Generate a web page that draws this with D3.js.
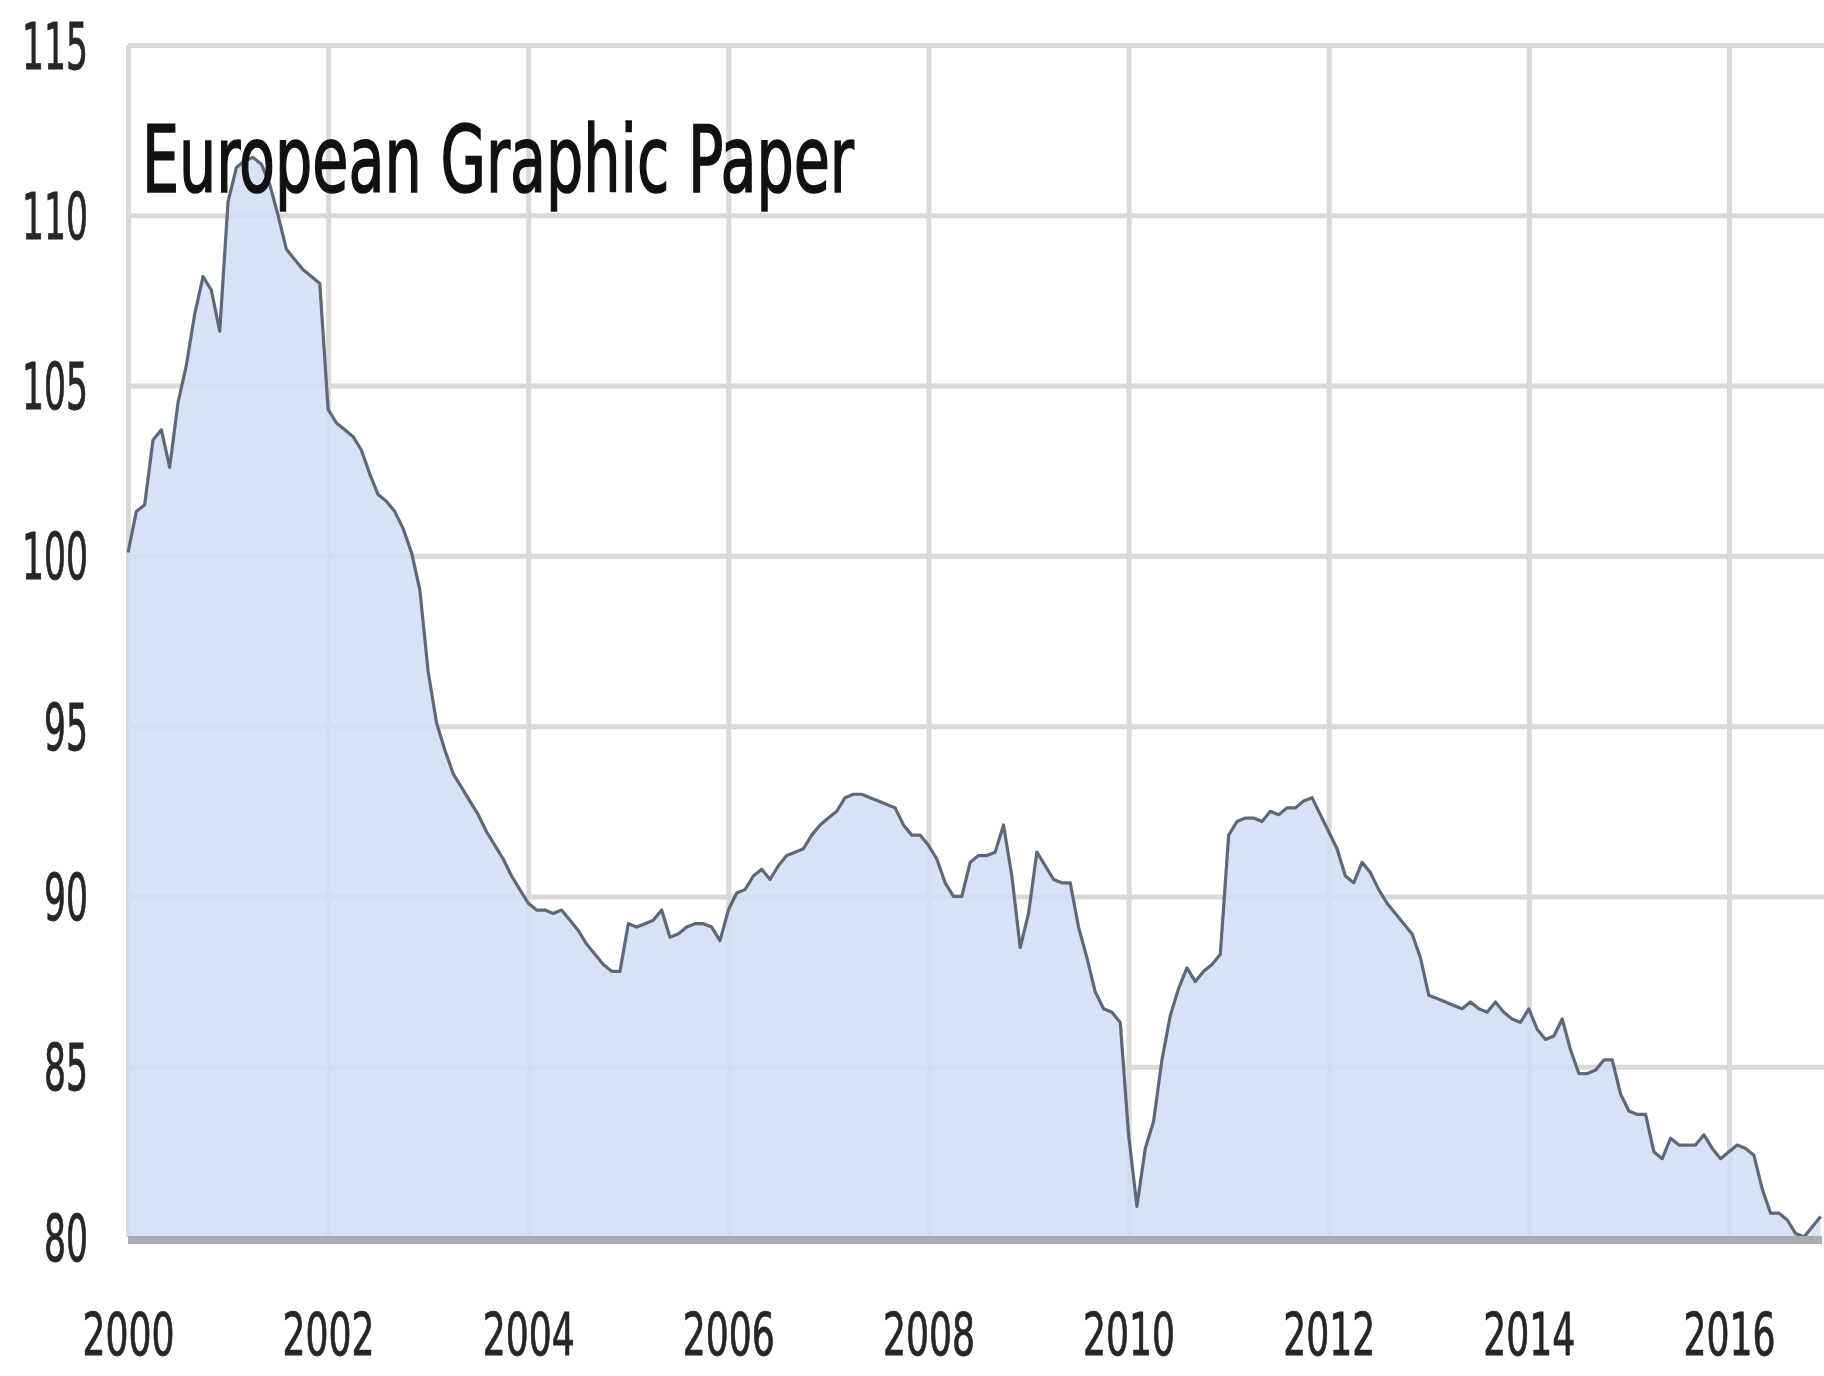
<!DOCTYPE html>
<html>
<head>
<meta charset="utf-8">
<script src="https://cdn.jsdelivr.net/npm/d3@7"></script>
<style>
  body { margin: 0; background: #fff; }
  svg { display: block; }
  text { font-family: "Liberation Sans Narrow", "DejaVu Sans Condensed", sans-serif; }
</style>
</head>
<body>
<div id="master"></div>
<script>
const title = "European Graphic Paper";
const startYear = 2000;

// monthly index values (Jan..Dec)
const v2000 = [100.1, 101.3, 101.5, 103.4, 103.7, 102.6, 104.5, 105.6, 107.1, 108.2, 107.8, 106.6];
const v2001 = [110.4, 111.4, 111.6, 111.7, 111.5, 110.9, 110.0, 109.0, 108.7, 108.4, 108.2, 108.0];
const v2002 = [104.3, 103.9, 103.7, 103.5, 103.1, 102.4, 101.8, 101.6, 101.3, 100.8, 100.1, 99.0];
const v2003 = [96.6, 95.1, 94.3, 93.6, 93.2, 92.8, 92.4, 91.9, 91.5, 91.1, 90.6, 90.2];
const v2004 = [89.8, 89.6, 89.6, 89.5, 89.6, 89.3, 89.0, 88.6, 88.3, 88.0, 87.8, 87.8];
const v2005 = [89.2, 89.1, 89.2, 89.3, 89.6, 88.8, 88.9, 89.1, 89.2, 89.2, 89.1, 88.7];
const v2006 = [89.6, 90.1, 90.2, 90.6, 90.8, 90.5, 90.9, 91.2, 91.3, 91.4, 91.8, 92.1];
const v2007 = [92.3, 92.5, 92.9, 93.0, 93.0, 92.9, 92.8, 92.7, 92.6, 92.1, 91.8, 91.8];
const v2008 = [91.5, 91.1, 90.4, 90.0, 90.0, 91.0, 91.2, 91.2, 91.3, 92.1, 90.6, 88.5];
const v2009 = [89.5, 91.3, 90.9, 90.5, 90.4, 90.4, 89.1, 88.2, 87.2, 86.7, 86.6, 86.3];
const v2010 = [83.0, 80.9, 82.6, 83.4, 85.2, 86.5, 87.3, 87.9, 87.5, 87.8, 88.0, 88.3];
const v2011 = [91.8, 92.2, 92.3, 92.3, 92.2, 92.5, 92.4, 92.6, 92.6, 92.8, 92.9, 92.4];
const v2012 = [91.9, 91.4, 90.6, 90.4, 91.0, 90.7, 90.2, 89.8, 89.5, 89.2, 88.9, 88.2];
const v2013 = [87.1, 87.0, 86.9, 86.8, 86.7, 86.9, 86.7, 86.6, 86.9, 86.6, 86.4, 86.3];
const v2014 = [86.7, 86.1, 85.8, 85.9, 86.4, 85.5, 84.8, 84.8, 84.9, 85.2, 85.2, 84.2];
const v2015 = [83.7, 83.6, 83.6, 82.5, 82.3, 82.9, 82.7, 82.7, 82.7, 83.0, 82.6, 82.3];
const v2016 = [82.5, 82.7, 82.6, 82.4, 81.4, 80.7, 80.7, 80.5, 80.1, 80.0, 80.3, 80.6];

const xTicks = [2000, 2002, 2004, 2006, 2008, 2010, 2012, 2014, 2016];
const yTicks = [80, 85, 90, 95, 100, 105, 110, 115];

const values = [].concat(v2000, v2001, v2002, v2003, v2004, v2005, v2006, v2007, v2008,
  v2009, v2010, v2011, v2012, v2013, v2014, v2015, v2016);
const data = values.map((v, i) => ({ t: startYear + i / 12, v: v }));

let w = 1824, h = 1376;
let xScale = d3.scaleLinear().domain([2000, 2016.93]).range([128, 1822]);
let yScale = d3.scaleLinear().domain([80, 115]).range([1237, 45]);

let svg = d3.select("#master").append("svg").attr("width", w).attr("height", h);
svg.append("rect").attr("width", w).attr("height", h).attr("fill", "#fff");

// horizontal grid
svg.append("g")
  .attr("transform", "translate(" + xScale(2000) + ",0)")
  .call(d3.axisLeft(yScale).tickValues(yTicks.filter(d => d > 80)).tickSize(-(w - xScale(2000))).tickFormat(""))
  .call(g => g.select(".domain").remove())
  .call(g => g.selectAll("line").attr("stroke", "#d9d9d9").attr("stroke-width", 5));

// vertical grid
svg.append("g")
  .attr("transform", "translate(0," + yScale(80) + ")")
  .call(d3.axisBottom(xScale).tickValues(xTicks).tickSize(-(yScale(80) - yScale(115))).tickFormat(""))
  .call(g => g.select(".domain").remove())
  .call(g => g.selectAll("line").attr("stroke", "#d9d9d9").attr("stroke-width", 5));

// area + line
let area = d3.area().x(d => xScale(d.t)).y0(yScale(80)).y1(d => yScale(d.v));
let line = d3.line().x(d => xScale(d.t)).y(d => yScale(d.v));

svg.append("path").datum(data).attr("d", area)
  .attr("fill", "rgb(208,222,242)").attr("fill-opacity", 0.85);
svg.append("path").datum(data).attr("d", line)
  .attr("fill", "none").attr("stroke", "#5d6978").attr("stroke-width", 3.2).attr("stroke-linejoin", "round");

// bottom axis line
svg.append("line")
  .attr("x1", xScale.range()[0]).attr("x2", xScale.range()[1])
  .attr("y1", yScale(80) + 3).attr("y2", yScale(80) + 3)
  .attr("stroke", "#a9acb1").attr("stroke-width", 8);

// y labels
let yAxis = svg.append("g")
  .attr("transform", "translate(88,0)")
  .call(d3.axisLeft(yScale).tickValues(yTicks).tickSize(0).tickPadding(0).tickFormat(d3.format("d")));
yAxis.select(".domain").remove();
yAxis.selectAll("text")
  .attr("font-size", 64).attr("fill", "#262626")
  .attr("stroke", "#262626").attr("stroke-width", 0.8)
  .attr("dy", "0.36em")
  .attr("textLength", d => String(d).length * 22)
  .attr("lengthAdjust", "spacingAndGlyphs");

// x labels
let xAxis = svg.append("g")
  .attr("transform", "translate(0,1314)")
  .call(d3.axisBottom(xScale).tickValues(xTicks).tickSize(0).tickPadding(0).tickFormat(d3.format("d")));
xAxis.select(".domain").remove();
xAxis.selectAll("text")
  .attr("font-size", 58).attr("fill", "#262626")
  .attr("stroke", "#262626").attr("stroke-width", 0.8)
  .attr("textLength", d => String(d).length * 23)
  .attr("lengthAdjust", "spacingAndGlyphs");

// title
svg.append("text")
  .attr("x", 142).attr("y", 192)
  .attr("font-size", 92)
  .attr("fill", "#111")
  .attr("stroke", "#111").attr("stroke-width", 1.6)
  .attr("textLength", 712)
  .attr("lengthAdjust", "spacingAndGlyphs")
  .text(title);
</script>
</body>
</html>
